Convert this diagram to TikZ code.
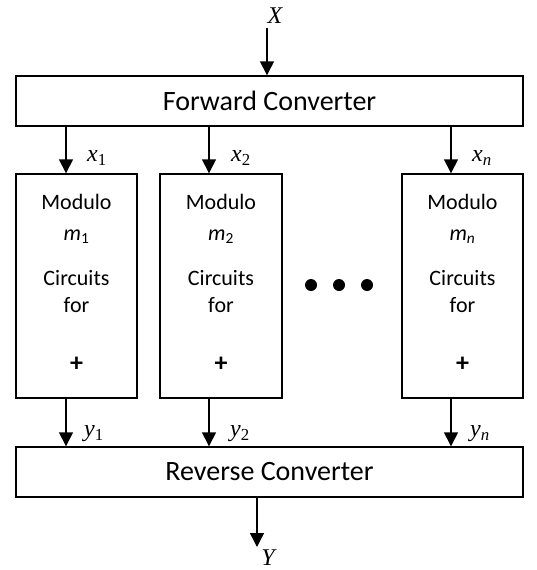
\documentclass[tikz,border=0pt]{standalone}
\usepackage{fontspec}
\setmainfont{Carlito}
\newfontfamily\lblfont{Liberation Serif}
\usetikzlibrary{arrows.meta,positioning}
\tikzset{
  blk/.style={draw,line width=1.4pt,rectangle,inner sep=0pt},
  modblk/.style={blk,minimum width=121pt,minimum height=224pt},
  arr/.style={line width=1.4pt,-{Triangle[width=14pt,length=14pt]}},
  lbl/.style={inner sep=0pt,font=\fontsize{24}{28}\lblfont}
}
\newcommand{\modtext}[1]{Modulo\\[5pt]{\itshape m}\textsubscript{#1}\\[19pt]Circuits\\[1pt]for\\[33pt]{\bfseries\fontsize{26}{26}\selectfont +}}
\newcommand{\sig}[2]{\itshape #1\textsubscript{#2}}
\begin{document}
\begin{tikzpicture}[x=1pt,y=-1pt]
    \useasboundingbox (0,0) rectangle (537,570); % frame
    \node[blk,minimum width=507pt,minimum height=50pt,font=\fontsize{28}{32}\selectfont] (fwd) at (269.5,101) {Forward Converter}; % forward converter
    \node[blk,minimum width=507pt,minimum height=50pt,font=\fontsize{28}{32}\selectfont] (rev) at (269.5,472) {Reverse Converter}; % reverse converter
    \node[modblk] (mod1) at (76.5,286) {}; % first channel
    \node[modblk,minimum width=122pt] (mod2) at (221,286) {}; % second channel
    \node[modblk] (modn) at (462.5,286) {}; % last channel
    \foreach \m/\t in {mod1/1,mod2/2,modn/{\itshape n}}
        \node[align=center,font=\fontsize{22}{26}\selectfont,yshift=3pt] (\m-txt) at (\m.center) {\modtext{\t}}; % channel text
    \foreach \dx in {311,339,367}
        \fill (\dx,285) circle (6pt); % dots
    \coordinate (xin) at (267,28); % input end
    \coordinate (yout) at (257,547); % output end
    \coordinate (c1) at (66,0);
    \coordinate (c2) at (209,0);
    \coordinate (cn) at (451,0);
    \draw[arr] (xin) -- (fwd.north -| xin); % input
    \draw[arr] (fwd.south -| c1) -- (mod1.north -| c1); % x1
    \draw[arr] (fwd.south -| c2) -- (mod2.north -| c2); % x2
    \draw[arr] (fwd.south -| cn) -- (modn.north -| cn); % xn
    \draw[arr] (mod1.south -| c1) -- (rev.north -| c1); % y1
    \draw[arr] (mod2.south -| c2) -- (rev.north -| c2); % y2
    \draw[arr] (modn.south -| cn) -- (rev.north -| cn); % yn
    \draw[arr] (rev.south -| yout) -- (yout); % output
    \node[lbl] (xl) at (275,16) {\itshape X}; % X label
    \node[lbl] (yl) at (268,558) {\itshape Y}; % Y label
    \node[lbl] (x1l) at (97,158) {\sig{x}{\upshape 1}}; % x1 label
    \node[lbl] (x2l) at (241,158) {\sig{x}{\upshape 2}}; % x2 label
    \node[lbl] (xnl) at (482,158) {\sig{x}{n}}; % xn label
    \node[lbl] (y1l) at (94,434) {\sig{y}{\upshape 1}}; % y1 label
    \node[lbl] (y2l) at (240,434) {\sig{y}{\upshape 2}}; % y2 label
    \node[lbl] (ynl) at (480,434) {\sig{y}{n}}; % yn label
\end{tikzpicture}
\end{document}
